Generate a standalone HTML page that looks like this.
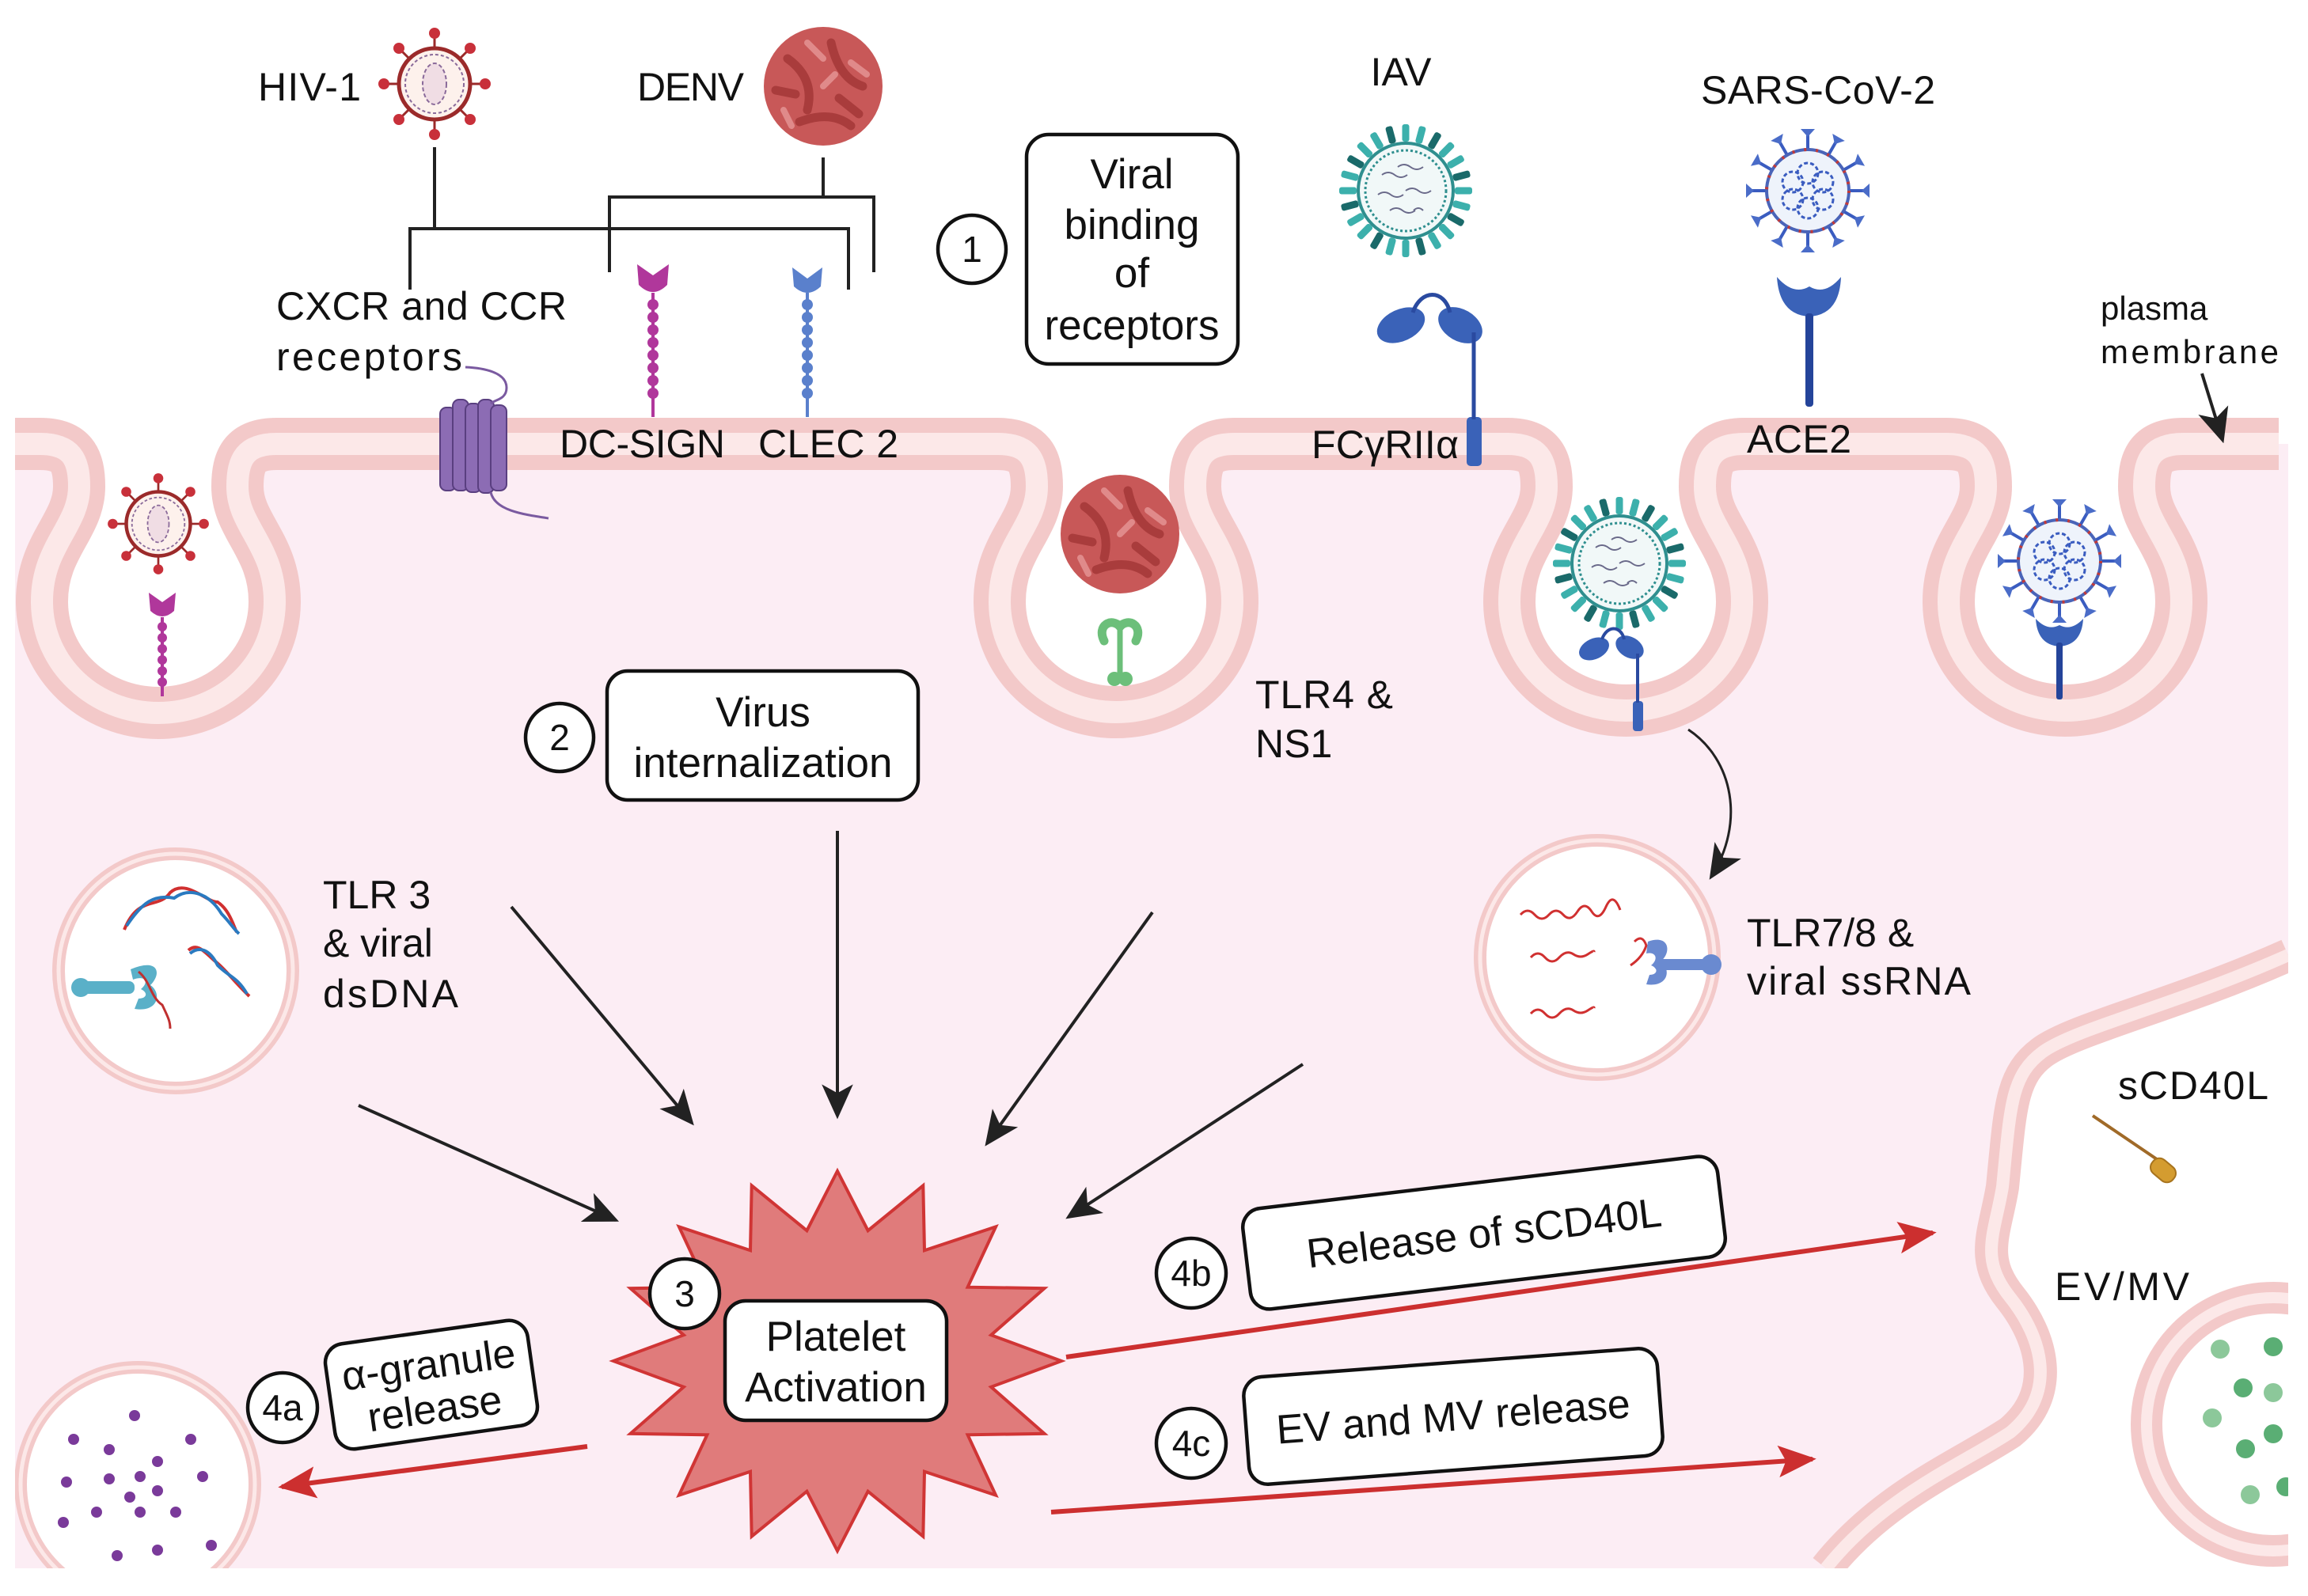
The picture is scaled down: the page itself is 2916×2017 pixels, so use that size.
<!DOCTYPE html>
<html><head><meta charset="utf-8"><style>
html,body{margin:0;padding:0;background:#fff;}
svg{display:block;}
text{font-family:"Liberation Sans",Arial,sans-serif;fill:#111;}
</style></head><body>
<svg width="2916" height="2017" viewBox="0 0 2916 2017" xmlns="http://www.w3.org/2000/svg">
<defs>
<marker id="ab" viewBox="0 0 10 10" refX="9" refY="5" markerWidth="44" markerHeight="44" markerUnits="userSpaceOnUse" orient="auto"><path d="M0,0.5 L10,5 L0,9.5 L2.5,5 Z" fill="#222"/></marker>
<marker id="ar" viewBox="0 0 10 10" refX="9" refY="5" markerWidth="48" markerHeight="48" markerUnits="userSpaceOnUse" orient="auto"><path d="M0,0.8 L10,5 L0,9.2 L2,5 Z" fill="#cc2f2f"/></marker>
<clipPath id="cell"><rect x="19" y="0" width="2872" height="1982"/></clipPath>
<g id="hiv">
 <g stroke="#9b2a2a" stroke-width="3">
  <line x1="0" y1="-45" x2="0" y2="-60"/><line x1="0" y1="45" x2="0" y2="60"/>
  <line x1="-45" y1="0" x2="-60" y2="0"/><line x1="45" y1="0" x2="60" y2="0"/>
  <line x1="32" y1="32" x2="42" y2="42"/><line x1="-32" y1="32" x2="-42" y2="42"/>
  <line x1="32" y1="-32" x2="42" y2="-42"/><line x1="-32" y1="-32" x2="-42" y2="-42"/>
 </g>
 <g fill="#c8303a">
  <circle cx="0" cy="-64" r="7"/><circle cx="0" cy="64" r="7"/><circle cx="-64" cy="0" r="7"/><circle cx="64" cy="0" r="7"/>
  <circle cx="45" cy="45" r="7"/><circle cx="-45" cy="45" r="7"/><circle cx="45" cy="-45" r="7"/><circle cx="-45" cy="-45" r="7"/>
 </g>
 <circle r="45" fill="#fdf1ec" stroke="#9b2a2a" stroke-width="5"/>
 <circle r="37" fill="none" stroke="#8a6a9a" stroke-width="2" stroke-dasharray="4 3"/>
 <ellipse rx="15" ry="26" fill="#f0dde4" stroke="#8a6a9a" stroke-width="2" stroke-dasharray="5 3"/>
</g>
<g id="denv">
 <circle r="75" fill="#c85858"/>
 <g stroke="#a93c3c" stroke-width="11" fill="none" stroke-linecap="round">
  <path d="M-45,-35 Q-10,-10 -20,30"/><path d="M10,-55 Q20,-10 50,0"/><path d="M-30,45 Q10,30 35,50"/><path d="M-60,5 L-35,10"/><path d="M20,15 L45,35"/>
 </g>
 <g stroke="#e08a8a" stroke-width="8" fill="none" stroke-linecap="round">
  <path d="M-20,-55 L0,-35"/><path d="M35,-30 L55,-15"/><path d="M-50,30 L-40,50"/><path d="M0,0 L15,-15"/>
 </g>
</g>
<g id="iav">
 <g fill="#3cb0ac">
  <rect x="-4.5" y="-84" width="9" height="22" rx="3" transform="rotate(0)"/>
  <rect x="-4.5" y="-84" width="9" height="22" rx="3" transform="rotate(15)"/>
  <rect x="-4.5" y="-84" width="9" height="22" rx="3" transform="rotate(30)" fill="#1a6a6a"/>
  <rect x="-4.5" y="-84" width="9" height="22" rx="3" transform="rotate(45)"/>
  <rect x="-4.5" y="-84" width="9" height="22" rx="3" transform="rotate(60)"/>
  <rect x="-4.5" y="-84" width="9" height="22" rx="3" transform="rotate(75)" fill="#1a6a6a"/>
  <rect x="-4.5" y="-84" width="9" height="22" rx="3" transform="rotate(90)"/>
  <rect x="-4.5" y="-84" width="9" height="22" rx="3" transform="rotate(105)"/>
  <rect x="-4.5" y="-84" width="9" height="22" rx="3" transform="rotate(120)" fill="#1a6a6a"/>
  <rect x="-4.5" y="-84" width="9" height="22" rx="3" transform="rotate(135)"/>
  <rect x="-4.5" y="-84" width="9" height="22" rx="3" transform="rotate(150)"/>
  <rect x="-4.5" y="-84" width="9" height="22" rx="3" transform="rotate(165)" fill="#1a6a6a"/>
  <rect x="-4.5" y="-84" width="9" height="22" rx="3" transform="rotate(180)"/>
  <rect x="-4.5" y="-84" width="9" height="22" rx="3" transform="rotate(195)"/>
  <rect x="-4.5" y="-84" width="9" height="22" rx="3" transform="rotate(210)" fill="#1a6a6a"/>
  <rect x="-4.5" y="-84" width="9" height="22" rx="3" transform="rotate(225)"/>
  <rect x="-4.5" y="-84" width="9" height="22" rx="3" transform="rotate(240)"/>
  <rect x="-4.5" y="-84" width="9" height="22" rx="3" transform="rotate(255)" fill="#1a6a6a"/>
  <rect x="-4.5" y="-84" width="9" height="22" rx="3" transform="rotate(270)"/>
  <rect x="-4.5" y="-84" width="9" height="22" rx="3" transform="rotate(285)"/>
  <rect x="-4.5" y="-84" width="9" height="22" rx="3" transform="rotate(300)" fill="#1a6a6a"/>
  <rect x="-4.5" y="-84" width="9" height="22" rx="3" transform="rotate(315)"/>
  <rect x="-4.5" y="-84" width="9" height="22" rx="3" transform="rotate(330)"/>
  <rect x="-4.5" y="-84" width="9" height="22" rx="3" transform="rotate(345)" fill="#1a6a6a"/>
 </g>
 <circle r="60" fill="#f1f8f8" stroke="#2f8f8f" stroke-width="4"/>
 <circle r="51" fill="none" stroke="#2f8f8f" stroke-width="3" stroke-dasharray="3 3"/>
 <g stroke="#6a6a8a" stroke-width="2" fill="none">
  <path d="M-30,-20 q8,-6 16,0 t16,0"/><path d="M-10,-30 q8,-6 16,0 t16,0"/><path d="M-35,5 q8,-6 16,0 t16,0"/><path d="M0,0 q8,-6 16,0 t16,0"/><path d="M-20,25 q8,-6 16,0 t16,0"/><path d="M10,25 q6,-6 12,0"/>
 </g>
</g>
<g id="sars">
 <g stroke="#3a5cc0" stroke-width="4">
  <line x1="0" y1="-50" x2="0" y2="-72" transform="rotate(0)"/><line x1="0" y1="-50" x2="0" y2="-72" transform="rotate(30)"/><line x1="0" y1="-50" x2="0" y2="-72" transform="rotate(60)"/><line x1="0" y1="-50" x2="0" y2="-72" transform="rotate(90)"/><line x1="0" y1="-50" x2="0" y2="-72" transform="rotate(120)"/><line x1="0" y1="-50" x2="0" y2="-72" transform="rotate(150)"/><line x1="0" y1="-50" x2="0" y2="-72" transform="rotate(180)"/><line x1="0" y1="-50" x2="0" y2="-72" transform="rotate(210)"/><line x1="0" y1="-50" x2="0" y2="-72" transform="rotate(240)"/><line x1="0" y1="-50" x2="0" y2="-72" transform="rotate(270)"/><line x1="0" y1="-50" x2="0" y2="-72" transform="rotate(300)"/><line x1="0" y1="-50" x2="0" y2="-72" transform="rotate(330)"/>
 </g>
 <g fill="#4a6cc8">
  <path d="M-9,-78 L9,-78 L0,-68 Z" transform="rotate(0)"/><path d="M-9,-78 L9,-78 L0,-68 Z" transform="rotate(30)"/><path d="M-9,-78 L9,-78 L0,-68 Z" transform="rotate(60)"/><path d="M-9,-78 L9,-78 L0,-68 Z" transform="rotate(90)"/><path d="M-9,-78 L9,-78 L0,-68 Z" transform="rotate(120)"/><path d="M-9,-78 L9,-78 L0,-68 Z" transform="rotate(150)"/><path d="M-9,-78 L9,-78 L0,-68 Z" transform="rotate(180)"/><path d="M-9,-78 L9,-78 L0,-68 Z" transform="rotate(210)"/><path d="M-9,-78 L9,-78 L0,-68 Z" transform="rotate(240)"/><path d="M-9,-78 L9,-78 L0,-68 Z" transform="rotate(270)"/><path d="M-9,-78 L9,-78 L0,-68 Z" transform="rotate(300)"/><path d="M-9,-78 L9,-78 L0,-68 Z" transform="rotate(330)"/>
 </g>
 <circle r="52" fill="#eef3fb" stroke="#4a64b8" stroke-width="4"/>
 <circle r="52" fill="none" stroke="#c03a3a" stroke-width="4" stroke-dasharray="3 12"/>
 <g fill="none" stroke="#3a5cc0" stroke-width="3" stroke-dasharray="5 3">
  <circle cx="0" cy="-22" r="13"/><circle cx="19" cy="-11" r="13"/><circle cx="19" cy="11" r="13"/><circle cx="0" cy="22" r="13"/><circle cx="-19" cy="11" r="13"/><circle cx="-19" cy="-11" r="13"/>
 </g>
</g>
</defs>

<!-- cell interior -->
<path d="M19,561 L50,561 C90,561 100,580 100,615 C100,665 53,690 53,760 C53,840 120,901 200,901 C280,901 347,840 347,760 C347,690 300,665 300,615 C300,580 310,561 350,561 L1260,561 C1300,561 1310,580 1310,615 C1310,665 1263,690 1263,760 C1263,840 1330,900 1410,900 C1490,900 1557,840 1557,760 C1557,690 1510,665 1510,615 C1510,580 1520,561 1560,561 L1904,561 C1944,561 1954,580 1954,615 C1954,665 1907,690 1907,760 C1907,840 1974,898 2054,898 C2134,898 2201,840 2201,760 C2201,690 2154,665 2154,615 C2154,580 2164,561 2204,561 L2459,561 C2499,561 2509,580 2509,615 C2509,665 2462,690 2462,760 C2462,840 2529,898 2609,898 C2689,898 2756,840 2756,760 C2756,690 2709,665 2709,615 C2709,580 2719,561 2759,561 L2891,561 L2891,1982 L19,1982 Z" fill="#fcedf4"/>

<!-- right cell (exterior white) -->
<g clip-path="url(#cell)">
<path d="M2891,1207 C2750,1270 2620,1300 2580,1330 C2540,1360 2540,1400 2530,1500 C2520,1560 2500,1590 2540,1640 C2580,1690 2600,1760 2540,1810 C2480,1850 2380,1890 2307,1982 L2891,1982 Z" fill="#fff"/>
<path d="M2891,1207 C2750,1270 2620,1300 2580,1330 C2540,1360 2540,1400 2530,1500 C2520,1560 2500,1590 2540,1640 C2580,1690 2600,1760 2540,1810 C2480,1850 2380,1890 2307,1982" fill="none" stroke="#f3c9c9" stroke-width="42"/>
<path d="M2891,1207 C2750,1270 2620,1300 2580,1330 C2540,1360 2540,1400 2530,1500 C2520,1560 2500,1590 2540,1640 C2580,1690 2600,1760 2540,1810 C2480,1850 2380,1890 2307,1982" fill="none" stroke="#fce8e8" stroke-width="16"/>
<circle cx="2872" cy="1800" r="160" fill="#fff" stroke="#f3c9c9" stroke-width="40"/>
<circle cx="2872" cy="1800" r="160" fill="none" stroke="#fce8e8" stroke-width="14"/>
<g fill="#5aae74">
 <circle cx="2805" cy="1705" r="12" fill="#8cc89a"/><circle cx="2872" cy="1702" r="12"/><circle cx="2834" cy="1754" r="12"/><circle cx="2872" cy="1760" r="12" fill="#8cc89a"/><circle cx="2795" cy="1792" r="12" fill="#8cc89a"/><circle cx="2872" cy="1812" r="12"/><circle cx="2837" cy="1831" r="12"/><circle cx="2843" cy="1889" r="12" fill="#8cc89a"/><circle cx="2888" cy="1879" r="12"/>
</g>
<!-- alpha granule vesicle -->
<circle cx="174" cy="1876" r="148" fill="#fff" stroke="#f3c9c9" stroke-width="16"/>
<circle cx="174" cy="1876" r="148" fill="none" stroke="#fce8e8" stroke-width="5"/>
<g fill="#7a3a9a">
 <circle cx="170" cy="1789" r="7"/><circle cx="93" cy="1819" r="7"/><circle cx="241" cy="1819" r="7"/><circle cx="138" cy="1832" r="7"/><circle cx="199" cy="1847" r="7"/><circle cx="84" cy="1873" r="7"/><circle cx="138" cy="1869" r="7"/><circle cx="177" cy="1866" r="7"/><circle cx="256" cy="1866" r="7"/><circle cx="164" cy="1892" r="7"/><circle cx="199" cy="1884" r="7"/><circle cx="122" cy="1911" r="7"/><circle cx="177" cy="1911" r="7"/><circle cx="222" cy="1911" r="7"/><circle cx="80" cy="1924" r="7"/><circle cx="148" cy="1966" r="7"/><circle cx="199" cy="1959" r="7"/><circle cx="267" cy="1953" r="7"/>
</g>
</g>

<!-- plasma membrane -->
<path id="mem" d="M19,561 L50,561 C90,561 100,580 100,615 C100,665 53,690 53,760 C53,840 120,901 200,901 C280,901 347,840 347,760 C347,690 300,665 300,615 C300,580 310,561 350,561 L1260,561 C1300,561 1310,580 1310,615 C1310,665 1263,690 1263,760 C1263,840 1330,900 1410,900 C1490,900 1557,840 1557,760 C1557,690 1510,665 1510,615 C1510,580 1520,561 1560,561 L1904,561 C1944,561 1954,580 1954,615 C1954,665 1907,690 1907,760 C1907,840 1974,898 2054,898 C2134,898 2201,840 2201,760 C2201,690 2154,665 2154,615 C2154,580 2164,561 2204,561 L2459,561 C2499,561 2509,580 2509,615 C2509,665 2462,690 2462,760 C2462,840 2529,898 2609,898 C2689,898 2756,840 2756,760 C2756,690 2709,665 2709,615 C2709,580 2719,561 2759,561 L2879,561" fill="none" stroke="#f3c9c9" stroke-width="66"/>
<path d="M19,561 L50,561 C90,561 100,580 100,615 C100,665 53,690 53,760 C53,840 120,901 200,901 C280,901 347,840 347,760 C347,690 300,665 300,615 C300,580 310,561 350,561 L1260,561 C1300,561 1310,580 1310,615 C1310,665 1263,690 1263,760 C1263,840 1330,900 1410,900 C1490,900 1557,840 1557,760 C1557,690 1510,665 1510,615 C1510,580 1520,561 1560,561 L1904,561 C1944,561 1954,580 1954,615 C1954,665 1907,690 1907,760 C1907,840 1974,898 2054,898 C2134,898 2201,840 2201,760 C2201,690 2154,665 2154,615 C2154,580 2164,561 2204,561 L2459,561 C2499,561 2509,580 2509,615 C2509,665 2462,690 2462,760 C2462,840 2529,898 2609,898 C2689,898 2756,840 2756,760 C2756,690 2709,665 2709,615 C2709,580 2719,561 2759,561 L2879,561" fill="none" stroke="#fce8e8" stroke-width="28"/>

<!-- TLR3 vesicle -->
<circle cx="222" cy="1227" r="148" fill="#fff" stroke="#f3c9c9" stroke-width="16"/>
<circle cx="222" cy="1227" r="148" fill="none" stroke="#fce8e8" stroke-width="5"/>
<g fill="none" stroke-width="4">
 <path d="M157,1175 C175,1130 200,1150 215,1128 C235,1110 260,1140 275,1140 C290,1150 295,1170 299,1178" stroke="#d03030"/>
 <path d="M160,1170 C180,1140 195,1130 220,1135 C240,1120 265,1130 280,1155 C290,1165 296,1175 302,1180" stroke="#2a7ac0"/>
 <path d="M238,1201 C250,1190 260,1205 272,1215 C285,1225 295,1240 315,1259" stroke="#d03030"/>
 <path d="M240,1205 C252,1195 265,1200 275,1220 C290,1235 300,1235 312,1256" stroke="#2a7ac0"/>
</g>
<g fill="#5ab0c8">
 <rect x="95" y="1240" width="75" height="16" rx="7"/>
 <circle cx="102" cy="1248" r="12"/>
 <path d="M165,1225 C200,1210 205,1230 190,1245 C205,1255 200,1280 170,1275 L175,1262 C185,1262 188,1255 178,1250 C188,1242 185,1232 168,1238 Z"/>
</g>
<path d="M175,1228 C190,1240 190,1260 205,1270 C212,1285 215,1290 215,1300" fill="none" stroke="#c03030" stroke-width="3"/>

<!-- TLR7/8 vesicle -->
<circle cx="2018" cy="1210" r="148" fill="#fff" stroke="#f3c9c9" stroke-width="16"/>
<circle cx="2018" cy="1210" r="148" fill="none" stroke="#fce8e8" stroke-width="5"/>
<g fill="none" stroke="#d03030" stroke-width="3">
 <path d="M1921,1156 q9,-10 18,0 t18,0 t18,0 t18,-4 t18,0 t18,-6 t18,4"/>
 <path d="M1934,1210 q9,-10 18,0 t18,0 t18,-4 t18,0 t8,-3"/>
 <path d="M1934,1281 q9,-10 18,0 t18,0 t18,-4 t18,0 t8,-3"/>
 <path d="M2065,1190 q10,-10 15,5 q-5,15 -20,25"/>
</g>
<g fill="#6a8ad0">
 <rect x="2090" y="1212" width="70" height="14" rx="6"/>
 <circle cx="2162" cy="1219" r="13"/>
 <path d="M2082,1190 C2110,1180 2112,1205 2098,1215 C2112,1225 2108,1248 2080,1244 L2084,1232 C2094,1232 2096,1224 2086,1220 C2096,1212 2092,1202 2080,1205 Z"/>
</g>

<!-- black connector lines -->
<g stroke="#222" stroke-width="4" fill="none">
 <path d="M549,186 L549,289 M518,366 L518,289 L1072,289 L1072,366"/>
 <path d="M1040,199 L1040,249 M770,344 L770,249 L1104,249 L1104,344"/>
</g>

<!-- viruses top -->
<use href="#hiv" transform="translate(549,106)"/>
<use href="#denv" transform="translate(1040,109)"/>
<use href="#iav" transform="translate(1776,241)"/>
<use href="#sars" transform="translate(2284,241)"/>
<!-- viruses in pockets -->
<use href="#hiv" transform="translate(200,662) scale(0.9)"/>
<use href="#denv" transform="translate(1415,675)"/>
<use href="#iav" transform="translate(2046,712)"/>
<use href="#sars" transform="translate(2602,709)"/>

<!-- DC-SIGN top -->
<g fill="#b0379b" stroke="#b0379b">
 <path d="M805,334 L825,348 L845,334 L843,360 Q825,378 807,360 Z" stroke="none"/>
 <line x1="825" y1="370" x2="825" y2="527" stroke-width="4"/>
 <circle cx="825" cy="385" r="7" stroke="none"/><circle cx="825" cy="401" r="7" stroke="none"/><circle cx="825" cy="417" r="7" stroke="none"/><circle cx="825" cy="433" r="7" stroke="none"/><circle cx="825" cy="449" r="7" stroke="none"/><circle cx="825" cy="465" r="7" stroke="none"/><circle cx="825" cy="481" r="7" stroke="none"/><circle cx="825" cy="497" r="7" stroke="none"/>
</g>
<!-- CLEC2 top -->
<g fill="#5a80cc" stroke="#5a80cc">
 <path d="M1001,338 L1020,352 L1039,338 L1037,362 Q1020,378 1003,362 Z" stroke="none"/>
 <line x1="1020" y1="370" x2="1020" y2="527" stroke-width="4"/>
 <circle cx="1020" cy="385" r="7" stroke="none"/><circle cx="1020" cy="401" r="7" stroke="none"/><circle cx="1020" cy="417" r="7" stroke="none"/><circle cx="1020" cy="433" r="7" stroke="none"/><circle cx="1020" cy="449" r="7" stroke="none"/><circle cx="1020" cy="465" r="7" stroke="none"/><circle cx="1020" cy="481" r="7" stroke="none"/><circle cx="1020" cy="497" r="7" stroke="none"/>
</g>
<!-- DC-SIGN pocket -->
<g fill="#b0379b" stroke="#b0379b">
 <path d="M188,749 L205,761 L222,749 L220,772 Q205,786 190,772 Z" stroke="none"/>
 <line x1="205" y1="780" x2="205" y2="880" stroke-width="4"/>
 <circle cx="205" cy="792" r="6" stroke="none"/><circle cx="205" cy="806" r="6" stroke="none"/><circle cx="205" cy="820" r="6" stroke="none"/><circle cx="205" cy="834" r="6" stroke="none"/><circle cx="205" cy="848" r="6" stroke="none"/><circle cx="205" cy="862" r="6" stroke="none"/>
</g>

<!-- GPCR -->
<g fill="#8c6cb4" stroke="#5a3f80" stroke-width="2">
 <rect x="556" y="515" width="20" height="105" rx="8"/>
 <rect x="572" y="505" width="20" height="115" rx="8"/>
 <rect x="588" y="510" width="20" height="112" rx="8"/>
 <rect x="604" y="505" width="20" height="118" rx="8"/>
 <rect x="620" y="512" width="20" height="108" rx="8"/>
</g>
<path d="M588,464 C610,465 640,470 640,490 C640,505 625,505 620,510 M620,622 C625,645 660,650 693,655" fill="none" stroke="#7a5aa0" stroke-width="3"/>

<!-- FCgRIIa top -->
<g fill="#3a62b8">
 <ellipse cx="1770" cy="411" rx="32" ry="20" transform="rotate(-25 1770 411)"/>
 <ellipse cx="1845" cy="411" rx="30" ry="20" transform="rotate(30 1845 411)"/>
 <rect x="1853" y="527" width="19" height="62" rx="5"/>
</g>
<path d="M1785,395 C1795,365 1825,365 1832,395 M1862,420 L1862,530" fill="none" stroke="#2a4aa0" stroke-width="5"/>
<!-- FCgRIIa pocket -->
<g fill="#3a62b8">
 <ellipse cx="2014" cy="820" rx="20" ry="13" transform="rotate(-25 2014 820)"/>
 <ellipse cx="2059" cy="818" rx="19" ry="13" transform="rotate(30 2059 818)"/>
 <rect x="2063" y="886" width="13" height="38" rx="4"/>
</g>
<path d="M2024,808 C2030,790 2048,790 2052,808 M2069,826 L2069,888" fill="none" stroke="#2a4aa0" stroke-width="4"/>
<!-- ACE2 top -->
<path d="M2245,350 Q2248,398 2286,400 Q2324,398 2326,350 Q2306,374 2286,362 Q2266,374 2245,350 Z" fill="#3a62b8"/>
<rect x="2281" y="396" width="10" height="118" rx="4" fill="#24449a"/>
<!-- ACE2 pocket -->
<path d="M2572,782 Q2574,815 2602,817 Q2630,815 2632,782 Q2617,798 2602,790 Q2587,798 2572,782 Z" fill="#3a62b8"/>
<rect x="2598" y="812" width="8" height="72" rx="3" fill="#24449a"/>

<!-- TLR4 green -->
<g fill="none" stroke="#6cbf7a" stroke-linecap="round">
 <path d="M1395,810 C1385,790 1405,780 1415,792 C1425,780 1445,790 1435,810" stroke-width="11"/>
 <path d="M1415,795 L1415,855" stroke-width="7"/>
</g>
<circle cx="1408" cy="858" r="9" fill="#6cbf7a"/><circle cx="1422" cy="858" r="9" fill="#6cbf7a"/>

<!-- plasma membrane arrow -->
<line x1="2782" y1="472" x2="2808" y2="556" stroke="#222" stroke-width="4" marker-end="url(#ab)"/>
<!-- curved arrow to TLR7/8 -->
<path d="M2133,922 C2190,960 2205,1040 2162,1108" fill="none" stroke="#222" stroke-width="3" marker-end="url(#ab)"/>

<!-- sCD40L -->
<line x1="2644" y1="1410" x2="2725" y2="1465" stroke="#a06a28" stroke-width="4"/>
<rect x="2722" y="1462" width="22" height="34" rx="10" fill="#d49c30" stroke="#a8741e" stroke-width="2" transform="rotate(-50 2733 1479)"/>

<!-- black arrows -->
<g stroke="#222" stroke-width="4" fill="none">
 <line x1="646" y1="1146" x2="874" y2="1419" marker-end="url(#ab)"/>
 <line x1="453" y1="1397" x2="778" y2="1542" marker-end="url(#ab)"/>
 <line x1="1058" y1="1050" x2="1058" y2="1410" marker-end="url(#ab)"/>
 <line x1="1456" y1="1153" x2="1247" y2="1445" marker-end="url(#ab)"/>
 <line x1="1646" y1="1345" x2="1350" y2="1538" marker-end="url(#ab)"/>
</g>

<!-- star -->
<polygon points="1058,1480 1096.6,1555.2 1166.3,1498.3 1168,1580.3 1258.1,1550.3 1222.6,1626.7 1319.5,1628.2 1252.2,1687.2 1341,1720 1252.2,1752.8 1319.5,1811.8 1222.6,1813.3 1258.1,1889.7 1168,1859.7 1166.3,1941.7 1096.6,1884.8 1058,1960 1019.4,1884.8 949.7,1941.7 948,1859.7 857.9,1889.7 893.4,1813.3 796.5,1811.8 863.8,1752.8 775,1720 863.8,1687.2 796.5,1628.2 893.4,1626.7 857.9,1550.3 948,1580.3 949.7,1498.3 1019.4,1555.2" fill="#e07b7b" stroke="#d03535" stroke-width="4" stroke-linejoin="miter"/>

<!-- red arrows -->
<g stroke="#cc2f2f" stroke-width="6" fill="none">
 <line x1="742" y1="1828" x2="356" y2="1879" marker-end="url(#ar)"/>
 <line x1="1347" y1="1715" x2="2442" y2="1558" marker-end="url(#ar)"/>
 <line x1="1328" y1="1911" x2="2290" y2="1844" marker-end="url(#ar)"/>
</g>

<!-- boxes -->
<g fill="#fff" stroke="#111" stroke-width="4.5">
 <rect x="1297" y="170" width="267" height="290" rx="28"/>
 <rect x="767" y="848" width="393" height="163" rx="26"/>
 <rect x="916" y="1644" width="280" height="151" rx="26"/>
 <rect x="-302" y="-64" width="604" height="128" rx="24" transform="translate(1875,1558) rotate(-6.75)"/>
 <rect x="-262" y="-68" width="524" height="136" rx="24" transform="translate(1836,1790) rotate(-4.3)"/>
 <rect x="-129" y="-67" width="258" height="134" rx="24" transform="translate(545,1750) rotate(-8)"/>
 <circle cx="1228" cy="315" r="43"/>
 <circle cx="707" cy="932" r="43"/>
 <circle cx="865" cy="1635" r="44"/>
 <circle cx="357" cy="1779" r="44"/>
 <circle cx="1505" cy="1609" r="44"/>
 <circle cx="1505" cy="1824" r="44"/>
</g>

<!-- texts -->
<g font-size="50">
 <text x="326" y="127" textLength="130">HIV-1</text>
 <text x="805" y="127" textLength="135">DENV</text>
 <text x="1770" y="108" text-anchor="middle">IAV</text>
 <text x="2149" y="131" textLength="296">SARS-CoV-2</text>
 <text x="349" y="404" textLength="367">CXCR and CCR</text>
 <text x="349" y="468" textLength="235">receptors</text>
 <text x="707" y="578" textLength="209">DC-SIGN</text>
 <text x="958" y="578" textLength="177">CLEC 2</text>
 <text x="1657" y="579" textLength="186">FCγRIIα</text>
 <text x="2207" y="572" textLength="132">ACE2</text>
 <text x="1586" y="895" textLength="174">TLR4 &amp;</text>
 <text x="1586" y="957">NS1</text>
 <text x="408" y="1148">TLR 3</text>
 <text x="408" y="1209">&amp; viral</text>
 <text x="408" y="1273" textLength="171">dsDNA</text>
 <text x="2207" y="1196">TLR7/8 &amp;</text>
 <text x="2207" y="1257" textLength="283">viral ssRNA</text>
 <text x="2676" y="1389" textLength="190">sCD40L</text>
 <text x="2596" y="1643" textLength="170">EV/MV</text>
</g>
<g font-size="42">
 <text x="2654" y="404">plasma</text>
 <text x="2654" y="459" textLength="225">membrane</text>
</g>
<g font-size="53" text-anchor="middle">
 <text x="1430" y="238">Viral</text>
 <text x="1430" y="302">binding</text>
 <text x="1430" y="363">of</text>
 <text x="1430" y="429">receptors</text>
 <text x="964" y="918">Virus</text>
 <text x="964" y="982">internalization</text>
 <text x="1056" y="1707">Platelet</text>
 <text x="1056" y="1771">Activation</text>
</g>
<g font-size="52" text-anchor="middle">
 <text transform="translate(1875,1558) rotate(-6.75)" y="18">Release of sCD40L</text>
 <text transform="translate(1836,1790) rotate(-4.3)" y="18">EV and MV release</text>
 <text transform="translate(545,1750) rotate(-8)" y="-8">α-granule</text>
 <text transform="translate(545,1750) rotate(-8)" y="48">release</text>
</g>
<g font-size="46" text-anchor="middle">
 <text x="1228" y="331">1</text>
 <text x="707" y="948">2</text>
 <text x="865" y="1651">3</text>
 <text x="357" y="1795">4a</text>
 <text x="1505" y="1625">4b</text>
 <text x="1505" y="1840">4c</text>
</g>
</svg>
</body></html>
